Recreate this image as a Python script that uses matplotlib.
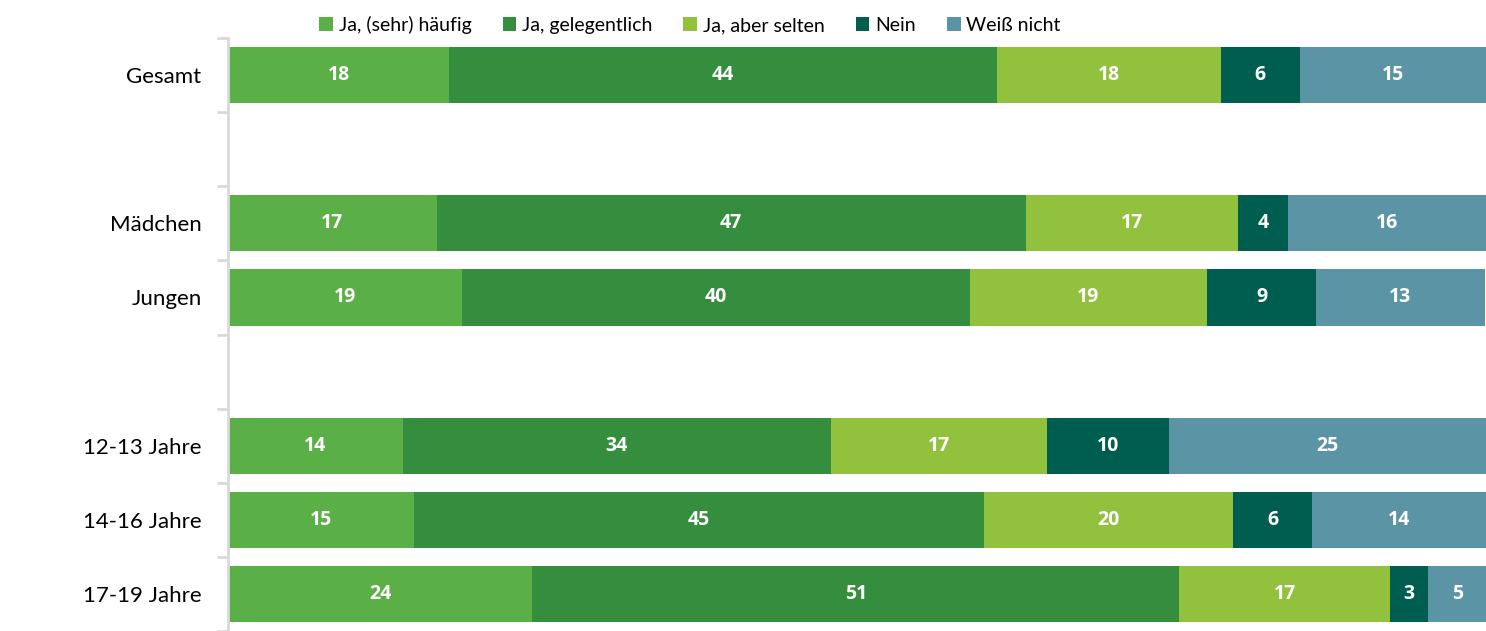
import matplotlib
matplotlib.use("Agg")
import matplotlib.pyplot as plt
from matplotlib.patches import Patch
import numpy as np

plt.rcParams['font.family'] = ['Lato', 'DejaVu Sans']

categories = ["Gesamt", "Mädchen", "Jungen", "12-13 Jahre", "14-16 Jahre", "17-19 Jahre"]
series_names = ["Ja, (sehr) häufig", "Ja, gelegentlich", "Ja, aber selten", "Nein", "Weiß nicht"]
haeufig      = [17.6, 16.6, 18.6, 13.9, 14.8, 24.2]
gelegentlich = [43.5, 46.8, 40.4, 34.0, 45.3, 51.4]
selten       = [17.8, 16.9, 18.8, 17.2, 19.8, 16.8]
nein         = [6.3, 4.0, 8.7, 9.7, 6.3, 3.0]
weiss_nicht  = [14.8, 15.7, 13.4, 25.2, 13.8, 4.7]
series = [haeufig, gelegentlich, selten, nein, weiss_nicht]

colors = ["#5BAF47", "#358E3E", "#92C13E", "#005E50", "#5B94A4"]
# slot positions (gaps between groups)
positions = [0, 2, 3, 5, 6, 7]
n_slots = 8

fig = plt.figure(figsize=(14.86, 6.31), dpi=100)
ax = fig.add_axes([228/1486, 0.0, 1 - 228/1486, 593/631])

left = np.zeros(len(categories))
for vals, col in zip(series, colors):
    vals = np.array(vals)
    ax.barh(positions, vals, left=left, height=0.76, color=col, edgecolor='none')
    for p, l, v in zip(positions, left, vals):
        ax.text(l + v / 2, p, f"{round(v):d}", ha='center', va='center',
                color='white', fontsize=14, fontweight='bold',
                family=['Open Sans', 'DejaVu Sans'])
    left += vals

ax.set_xlim(0, 100)
ax.set_ylim(n_slots - 0.5, -0.5)
ax.set_yticks(positions)
ax.set_yticklabels(categories, fontsize=16)
ax.tick_params(axis='y', which='major', length=0, pad=19)
ax.set_yticks(np.arange(-0.5, n_slots, 1.0), minor=True)
ax.tick_params(axis='y', which='minor', length=8, width=2, color='#D9D9D9')
ax.set_xticks([])
for s in ['top', 'right', 'bottom']:
    ax.spines[s].set_visible(False)
ax.spines['left'].set_color('#D9D9D9')
ax.spines['left'].set_linewidth(2)

handles = [Patch(facecolor=c, edgecolor='none') for c in colors]
fig.legend(handles, series_names, loc='center', bbox_to_anchor=(690/1486, 1 - 25/631),
           ncol=5, frameon=False, fontsize=14, handlelength=0.7, handleheight=0.7,
           handletextpad=0.3, columnspacing=1.6)

fig.savefig("out.png", dpi=100)
